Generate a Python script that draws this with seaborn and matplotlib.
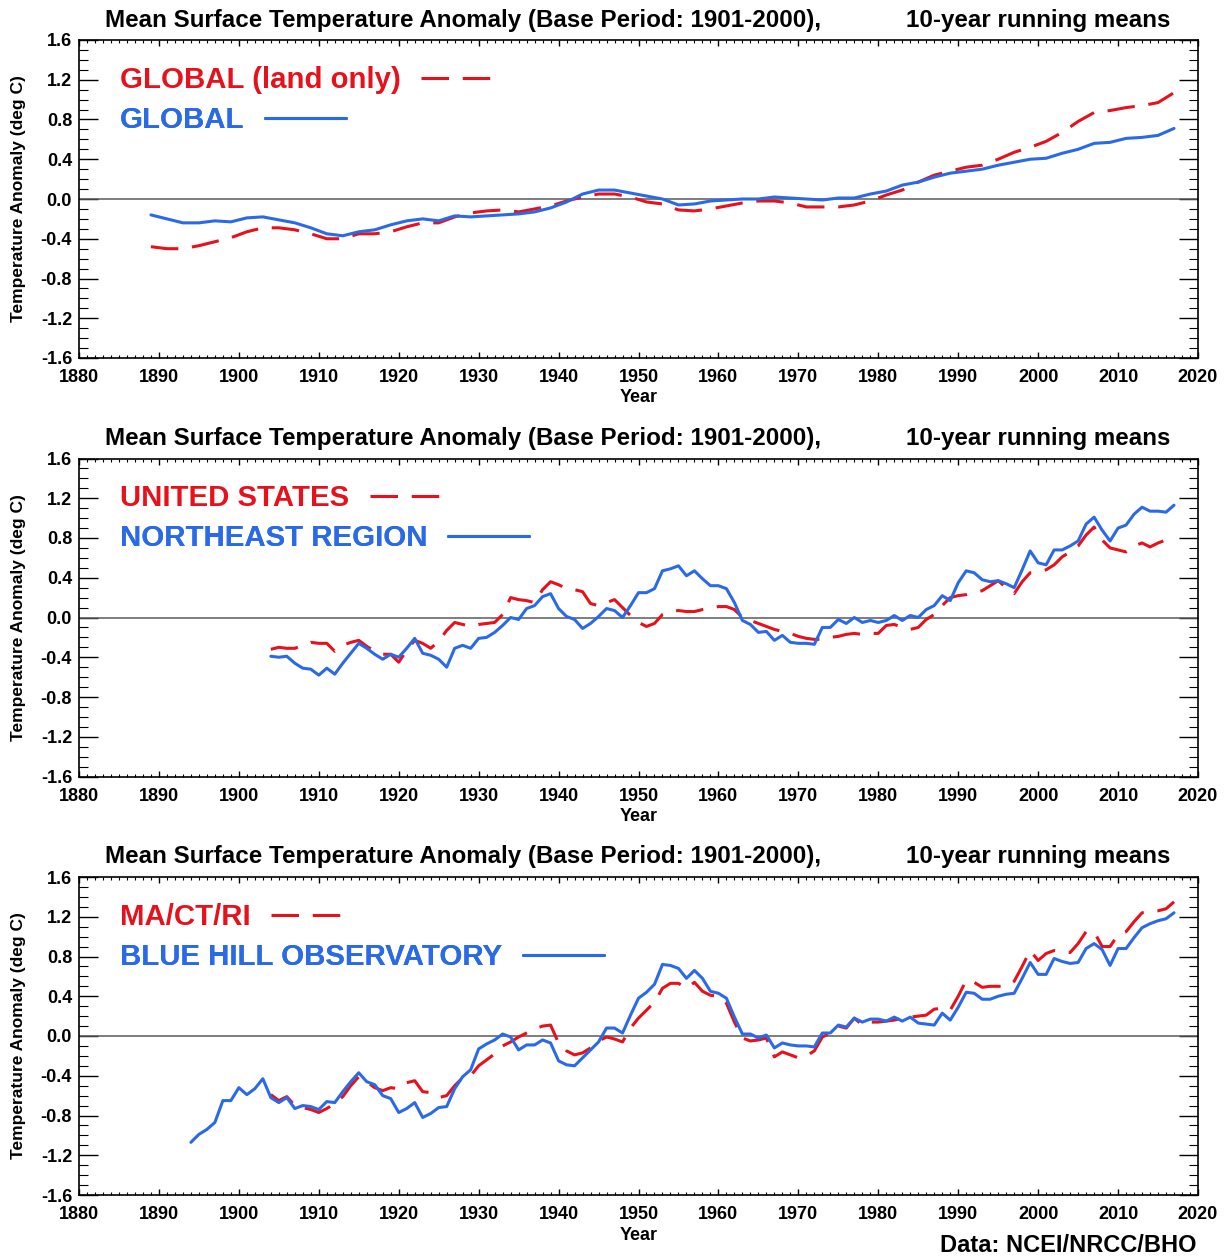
import numpy as np
import pandas as pd
import matplotlib
matplotlib.use("Agg")
import matplotlib.pyplot as plt
from matplotlib.ticker import MultipleLocator, FormatStrFormatter
from matplotlib.lines import Line2D
import seaborn as sns

# ---------------- DATA ----------------
# Panel 1: global (smooth, sampled every 2 years)
global_years = list(range(1889, 2018, 2))
global_land = [-0.48, -0.50, -0.50, -0.47, -0.43, -0.39, -0.33, -0.29, -0.29, -0.31,
               -0.35, -0.40, -0.40, -0.35, -0.35, -0.33, -0.28, -0.24, -0.24, -0.18,
               -0.14, -0.12, -0.11, -0.13, -0.10, -0.07, -0.02, 0.02, 0.05, 0.05,
               0.02, -0.03, -0.05, -0.11, -0.12, -0.10, -0.07, -0.04, -0.02, -0.02,
               -0.04, -0.08, -0.08, -0.08, -0.06, -0.02, 0.04, 0.09, 0.17, 0.24,
               0.28, 0.32, 0.34, 0.40, 0.47, 0.52, 0.58, 0.67, 0.78, 0.87,
               0.89, 0.92, 0.94, 0.97, 1.07]
global_all = [-0.16, -0.20, -0.24, -0.24, -0.22, -0.23, -0.19, -0.18, -0.21, -0.24,
              -0.29, -0.35, -0.37, -0.33, -0.31, -0.26, -0.22, -0.20, -0.22, -0.17,
              -0.18, -0.17, -0.16, -0.15, -0.13, -0.09, -0.03, 0.05, 0.09, 0.09,
              0.06, 0.03, 0.00, -0.06, -0.05, -0.02, -0.01, 0.00, 0.00, 0.02,
              0.01, 0.00, -0.01, 0.01, 0.01, 0.05, 0.08, 0.14, 0.17, 0.22,
              0.26, 0.28, 0.30, 0.34, 0.37, 0.40, 0.41, 0.46, 0.50, 0.56,
              0.57, 0.61, 0.62, 0.64, 0.71]

# Panel 2: United States / Northeast region (annual, 1904-2017)
us_years = list(range(1904, 2018))
us_vals = [-0.32, -0.30, -0.31, -0.31, -0.28, -0.25, -0.26, -0.26, -0.34, -0.28,
           -0.25, -0.23, -0.29, -0.34, -0.37, -0.37, -0.45, -0.33, -0.23, -0.26,
           -0.31, -0.24, -0.13, -0.05, -0.07, -0.09, -0.07, -0.06, -0.05, 0.03,
           0.20, 0.18, 0.17, 0.15, 0.28, 0.36, 0.33, 0.29, 0.28, 0.26,
           0.14, 0.12, 0.15, 0.18, 0.10, 0.02, -0.05, -0.09, -0.06, 0.03,
           0.06, 0.07, 0.06, 0.06, 0.08, 0.09, 0.11, 0.11, 0.08, 0.00,
           -0.03, -0.06, -0.09, -0.12, -0.14, -0.16, -0.19, -0.21, -0.22, -0.22,
           -0.20, -0.19, -0.17, -0.16, -0.17, -0.16, -0.16, -0.08, -0.07, -0.10,
           -0.12, -0.10, -0.02, 0.03, 0.12, 0.20, 0.22, 0.23, 0.25, 0.27,
           0.32, 0.37, 0.30, 0.24, 0.36, 0.45, 0.46, 0.48, 0.53, 0.61,
           0.66, 0.72, 0.83, 0.91, 0.78, 0.70, 0.68, 0.66, 0.72, 0.75,
           0.71, 0.75, 0.78, 0.78]
ne_years = list(range(1904, 2018))
ne_vals = [-0.39, -0.40, -0.39, -0.46, -0.51, -0.52, -0.58, -0.51, -0.57, -0.46,
           -0.36, -0.26, -0.31, -0.37, -0.42, -0.37, -0.40, -0.31, -0.21, -0.36,
           -0.38, -0.42, -0.50, -0.31, -0.28, -0.31, -0.21, -0.20, -0.15, -0.08,
           0.00, -0.02, 0.09, 0.12, 0.21, 0.24, 0.09, 0.01, -0.02, -0.11,
           -0.06, 0.01, 0.09, 0.07, 0.00, 0.12, 0.25, 0.25, 0.29, 0.47,
           0.49, 0.52, 0.42, 0.47, 0.39, 0.32, 0.32, 0.29, 0.15, -0.03,
           -0.07, -0.15, -0.14, -0.23, -0.18, -0.25, -0.26, -0.26, -0.27, -0.10,
           -0.10, -0.02, -0.06, 0.00, -0.05, -0.03, -0.05, -0.03, 0.02, -0.03,
           0.02, 0.00, 0.08, 0.12, 0.22, 0.17, 0.35, 0.47, 0.45, 0.38,
           0.36, 0.37, 0.34, 0.30, 0.48, 0.67, 0.55, 0.53, 0.68, 0.68,
           0.72, 0.77, 0.94, 1.01, 0.88, 0.77, 0.90, 0.93, 1.04, 1.11,
           1.07, 1.07, 1.06, 1.13]

# Panel 3: MA/CT/RI (1904-2017) and Blue Hill Observatory (1894-2017)
mcr_years = list(range(1904, 2018))
mcr_vals = [-0.59, -0.65, -0.61, -0.70, -0.72, -0.74, -0.77, -0.73, -0.68, -0.61,
            -0.50, -0.41, -0.46, -0.52, -0.55, -0.52, -0.53, -0.47, -0.45, -0.56,
            -0.57, -0.62, -0.60, -0.50, -0.42, -0.40, -0.30, -0.24, -0.18, -0.10,
            -0.06, -0.01, 0.03, 0.07, 0.10, 0.11, -0.07, -0.15, -0.19, -0.17,
            -0.12, -0.05, -0.01, -0.03, -0.06, 0.08, 0.18, 0.26, 0.34, 0.48,
            0.53, 0.53, 0.48, 0.54, 0.45, 0.41, 0.40, 0.33, 0.14, -0.02,
            -0.05, -0.04, -0.02, -0.21, -0.16, -0.19, -0.22, -0.20, -0.15, -0.01,
            0.03, 0.10, 0.08, 0.18, 0.11, 0.14, 0.14, 0.15, 0.16, 0.18,
            0.19, 0.20, 0.21, 0.27, 0.28, 0.26, 0.40, 0.56, 0.54, 0.49,
            0.50, 0.50, 0.50, 0.55, 0.70, 0.86, 0.76, 0.83, 0.86, 0.85,
            0.84, 0.93, 1.05, 1.05, 0.90, 0.90, 1.02, 1.05, 1.15, 1.24,
            1.25, 1.26, 1.28, 1.35]
bho_years = list(range(1894, 2018))
bho_vals = [-1.07, -0.99, -0.94, -0.87, -0.65, -0.65, -0.52, -0.59, -0.53, -0.43,
            -0.62, -0.67, -0.62, -0.73, -0.70, -0.71, -0.74, -0.66, -0.67, -0.56,
            -0.46, -0.37, -0.46, -0.49, -0.60, -0.63, -0.77, -0.73, -0.67, -0.82,
            -0.78, -0.72, -0.71, -0.53, -0.41, -0.34, -0.13, -0.08, -0.04, 0.02,
            -0.01, -0.14, -0.09, -0.09, -0.04, -0.07, -0.25, -0.29, -0.30, -0.22,
            -0.14, -0.06, 0.08, 0.08, 0.03, 0.21, 0.38, 0.44, 0.52, 0.72,
            0.71, 0.68, 0.58, 0.66, 0.58, 0.45, 0.43, 0.38, 0.19, 0.02,
            0.02, -0.02, 0.01, -0.12, -0.07, -0.09, -0.10, -0.10, -0.11, 0.03,
            0.03, 0.11, 0.09, 0.18, 0.14, 0.17, 0.17, 0.15, 0.19, 0.15,
            0.19, 0.13, 0.12, 0.11, 0.23, 0.16, 0.29, 0.44, 0.43, 0.37,
            0.37, 0.40, 0.42, 0.43, 0.58, 0.74, 0.62, 0.62, 0.78, 0.75,
            0.73, 0.74, 0.88, 0.93, 0.87, 0.71, 0.88, 0.88, 0.99, 1.09,
            1.13, 1.16, 1.18, 1.24]

labels_red = ["GLOBAL (land only)", "UNITED STATES", "MA/CT/RI"]
labels_blue = ["GLOBAL", "NORTHEAST REGION", "BLUE HILL OBSERVATORY"]
title_left = "Mean Surface Temperature Anomaly (Base Period: 1901-2000),"
title_right = "10-year running means"
ylabel_text = "Temperature Anomaly (deg C)"
xlabel_text = "Year"
source_text = "Data: NCEI/NRCC/BHO"

# ---------------- STYLE ----------------
sns.set_style("ticks", rc={"axes.edgecolor": "black", "text.color": "black",
                           "axes.labelcolor": "black", "xtick.color": "black",
                           "ytick.color": "black"})
plt.rcParams["font.family"] = ["Liberation Sans", "DejaVu Sans"]
plt.rcParams["font.weight"] = "bold"
plt.rcParams["axes.labelweight"] = "bold"
plt.rcParams["axes.unicode_minus"] = False

RED = "#e6111b"
BLUE = "#2a6ae6"
DASH = (9, 4.5)
LW = 2.2

fig = plt.figure(figsize=(12.28, 12.58), dpi=100)
W_PX, H_PX = 1228, 1258
ax_left, ax_right = 79, 1198
panel_tops = [40, 458.5, 877]
panel_h = 318

panels = [
    (global_years, global_land, global_years, global_all),
    (us_years, us_vals, ne_years, ne_vals),
    (mcr_years, mcr_vals, bho_years, bho_vals),
]


def add_key(ax, label, color, dashes, y, hl):
    if dashes:
        h = Line2D([], [], color=color, lw=LW, dashes=dashes)
    else:
        h = Line2D([], [], color=color, lw=LW, linestyle="-")
    leg = ax.legend([h], [label], loc="center left",
                    bbox_to_anchor=(0.0366, y), frameon=False,
                    markerfirst=False, handlelength=hl, handletextpad=0.7,
                    borderpad=0, borderaxespad=0,
                    prop={"size": 21.2, "weight": "bold"}, labelcolor=color)
    ax.add_artist(leg)


for i, (xr, yr, xb, yb) in enumerate(panels):
    top = panel_tops[i]
    ax = fig.add_axes([ax_left / W_PX, 1 - (top + panel_h) / H_PX,
                       (ax_right - ax_left) / W_PX, panel_h / H_PX])
    lr, lb = labels_red[i], labels_blue[i]
    df = pd.concat([
        pd.DataFrame({"Year": xr, "value": yr, "series": lr}),
        pd.DataFrame({"Year": xb, "value": yb, "series": lb}),
    ], ignore_index=True)
    ax.axhline(0, color="#5a5a5a", lw=1.1, zorder=1)
    sns.lineplot(data=df, x="Year", y="value", hue="series", style="series",
                 hue_order=[lr, lb], style_order=[lr, lb],
                 palette={lr: RED, lb: BLUE}, dashes={lr: DASH, lb: ""},
                 estimator=None, errorbar=None, legend=False, ax=ax,
                 linewidth=LW, zorder=3)

    ax.set_xlim(1880, 2020)
    ax.set_ylim(-1.6, 1.6)
    ax.xaxis.set_major_locator(MultipleLocator(10))
    ax.xaxis.set_minor_locator(MultipleLocator(1))
    ax.yaxis.set_major_locator(MultipleLocator(0.4))
    ax.yaxis.set_minor_locator(MultipleLocator(0.1))
    ax.yaxis.set_major_formatter(FormatStrFormatter("%.1f"))
    ax.tick_params(which="both", direction="in", top=True, right=True,
                   labeltop=False, labelright=False)
    ax.tick_params(axis="x", which="major", length=4.5, width=1.0, pad=8, labelsize=13)
    ax.tick_params(axis="x", which="minor", length=2.2, width=0.8)
    ax.tick_params(axis="y", which="major", length=14, width=1.0, pad=5, labelsize=13)
    ax.tick_params(axis="y", which="minor", length=6.5, width=0.8)
    for sp in ax.spines.values():
        sp.set_linewidth(1.2)
        sp.set_color("black")

    ax.set_xlabel(xlabel_text, fontsize=13, fontweight="bold", va="center")
    ax.xaxis.set_label_coords(0.5, -40 / panel_h)
    ax.set_ylabel(ylabel_text, fontsize=12.5, fontweight="bold", va="center")
    ax.yaxis.set_label_coords((19 - ax_left) / (ax_right - ax_left), 0.5)

    ax.text((105 - ax_left) / (ax_right - ax_left), 1 + 20 / panel_h, title_left,
            transform=ax.transAxes, ha="left", va="center", fontsize=17.4,
            fontweight="bold")
    ax.text((1170 - ax_left) / (ax_right - ax_left), 1 + 20 / panel_h, title_right,
            transform=ax.transAxes, ha="right", va="center", fontsize=17.4,
            fontweight="bold")

    add_key(ax, lr, RED, DASH, 1 - 40 / panel_h, 2.4)
    add_key(ax, lb, BLUE, None, 1 - 80 / panel_h, 2.75)

fig.text(1197 / W_PX, 1 - 1245 / H_PX, source_text, ha="right", va="center",
         fontsize=17, fontweight="bold")

fig.savefig("out.png", dpi=100, facecolor="white")
